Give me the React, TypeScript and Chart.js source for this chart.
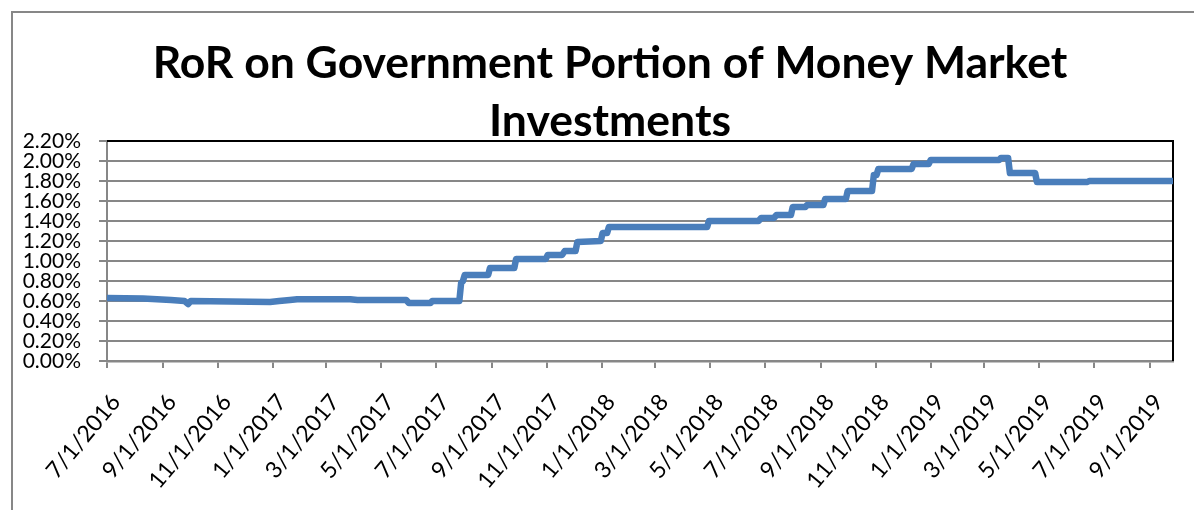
import React, { useEffect, useRef } from "react";
import { Chart, registerables } from "chart.js";

Chart.register(...registerables);

const titleLines = ["RoR on Government Portion of Money Market", "Investments"];

const tickLabels = [
  "7/1/2016", "9/1/2016", "11/1/2016", "1/1/2017", "3/1/2017", "5/1/2017",
  "7/1/2017", "9/1/2017", "11/1/2017", "1/1/2018", "3/1/2018", "5/1/2018",
  "7/1/2018", "9/1/2018", "11/1/2018", "1/1/2019", "3/1/2019", "5/1/2019",
  "7/1/2019", "9/1/2019",
];

const axisStart = "7/1/2016";
const axisEnd = "9/27/2019";

const pointDates = [
  "7/1/2016", "8/10/2016", "9/10/2016", "9/25/2016", "9/29/2016", "10/2/2016",
  "11/15/2016", "12/29/2016", "1/8/2017", "1/20/2017", "1/28/2017", "3/28/2017",
  "4/5/2017", "5/29/2017", "6/1/2017", "6/25/2017", "6/27/2017", "7/27/2017",
  "7/29/2017", "7/31/2017", "8/2/2017", "8/28/2017", "8/30/2017", "9/26/2017",
  "9/28/2017", "10/31/2017", "11/2/2017", "11/18/2017", "11/21/2017", "12/3/2017",
  "12/5/2017", "12/31/2017", "1/2/2018", "1/7/2018", "1/9/2018", "4/28/2018",
  "4/30/2018", "6/24/2018", "6/27/2018", "7/11/2018", "7/14/2018", "7/30/2018",
  "8/1/2018", "8/15/2018", "8/17/2018", "9/4/2018", "9/6/2018", "9/29/2018",
  "10/1/2018", "10/28/2018", "10/30/2018", "11/2/2018", "11/4/2018", "12/11/2018",
  "12/13/2018", "12/30/2018", "1/1/2019", "3/18/2019", "3/20/2019", "3/28/2019",
  "3/30/2019", "4/27/2019", "4/29/2019", "6/24/2019", "6/26/2019", "9/27/2019",
];

const pointValues = [
  0.63, 0.625, 0.61, 0.60, 0.57, 0.60,
  0.595, 0.59, 0.60, 0.61, 0.617, 0.617,
  0.61, 0.61, 0.58, 0.58, 0.60, 0.60,
  0.78, 0.80, 0.86, 0.86, 0.93, 0.93,
  1.02, 1.02, 1.06, 1.06, 1.10, 1.10,
  1.19, 1.20, 1.28, 1.28, 1.34, 1.34,
  1.40, 1.40, 1.43, 1.43, 1.46, 1.46,
  1.54, 1.54, 1.56, 1.56, 1.62, 1.62,
  1.70, 1.70, 1.86, 1.86, 1.92, 1.92,
  1.97, 1.97, 2.01, 2.01, 2.03, 2.03,
  1.88, 1.88, 1.79, 1.79, 1.80, 1.80,
];

const yMin = 0;
const yMax = 2.2;
const yStep = 0.2;

function dayIndex(s: string): number {
  const [m, d, y] = s.split("/").map(Number);
  const [m0, d0, y0] = axisStart.split("/").map(Number);
  return Math.round((Date.UTC(y, m - 1, d) - Date.UTC(y0, m0 - 1, d0)) / 86400000);
}

const GRAY = "#878787";
const FONT = "Lato, 'Open Sans', sans-serif";

const framePlugin = {
  id: "frame",
  afterLayout(chart: any) {
    const t = chart.titleBlock;
    if (t) {
      t.left = 47;
      t.right = chart.chartArea.right;
      t.width = t.right - t.left;
    }
  },
  beforeDraw(chart: any) {
    const ctx = chart.ctx;
    ctx.save();
    ctx.fillStyle = "#ffffff";
    ctx.fillRect(0, 0, chart.width, chart.height);
    ctx.strokeStyle = GRAY;
    ctx.lineWidth = 2;
    ctx.beginPath();
    ctx.moveTo(12, chart.height);
    ctx.lineTo(12, 12);
    ctx.lineTo(chart.width, 12);
    ctx.stroke();
    ctx.restore();
  },
  beforeDatasetsDraw(chart: any) {
    const ctx = chart.ctx;
    const { left, top, right, bottom } = chart.chartArea;
    ctx.save();
    ctx.strokeStyle = "#000000";
    ctx.lineWidth = 2;
    ctx.beginPath();
    ctx.moveTo(left, top);
    ctx.lineTo(right, top);
    ctx.lineTo(right, bottom);
    ctx.stroke();
    ctx.restore();
  },
};

export default function App() {
  const canvasRef = useRef<HTMLCanvasElement | null>(null);

  useEffect(() => {
    const canvas = canvasRef.current;
    if (!canvas) return;
    const points = pointDates.map((d, i) => ({ x: dayIndex(d), y: pointValues[i] }));
    const chart = new Chart(canvas, {
      type: "line",
      data: {
        datasets: [
          {
            label: "RoR",
            data: points,
            borderColor: "#4a7ebb",
            backgroundColor: "#4a7ebb",
            borderWidth: 6.5,
            pointRadius: 0,
            tension: 0,
            fill: false,
            borderJoinStyle: "round",
            borderCapStyle: "round",
          },
        ],
      },
      options: {
        animation: false,
        responsive: false,
        devicePixelRatio: 1,
        layout: { padding: { left: 0, right: 21, top: 0, bottom: 0 } },
        plugins: {
          legend: { display: false },
          tooltip: { enabled: false },
          title: {
            display: true,
            text: titleLines,
            color: "#000000",
            font: { family: FONT, size: 44.5, weight: "bold", lineHeight: "58px" },
            padding: { top: 35, bottom: -10 },
          },
        },
        scales: {
          x: {
            type: "linear",
            min: dayIndex(axisStart),
            max: dayIndex(axisEnd),
            afterBuildTicks: (scale: any) => {
              scale.ticks = tickLabels.map((l) => ({ value: dayIndex(l) }));
            },
            afterFit: (scale: any) => {
              scale.height = 149;
            },
            grid: {
              display: true,
              drawOnChartArea: false,
              drawTicks: true,
              tickLength: 7,
              color: GRAY,
              lineWidth: 2,
            },
            border: { display: true, color: GRAY, width: 2.5 },
            ticks: {
              autoSkip: false,
              maxRotation: 50,
              minRotation: 50,
              padding: 21,
              labelOffset: 9,
              color: "#000000",
              font: { family: FONT, size: 23 },
              callback: (_v: any, i: number) => tickLabels[i],
            },
          },
          y: {
            type: "linear",
            min: yMin,
            max: yMax,
            afterFit: (scale: any) => {
              scale.width = 107;
            },
            grid: {
              display: true,
              drawOnChartArea: true,
              drawTicks: true,
              tickLength: 8,
              color: GRAY,
              lineWidth: 2,
            },
            border: { display: true, color: GRAY, width: 2 },
            ticks: {
              stepSize: yStep,
              autoSkip: false,
              padding: 18,
              color: "#000000",
              font: { family: FONT, size: 21 },
              callback: (v: any) => Number(v).toFixed(2) + "%",
            },
          },
        },
      },
      plugins: [framePlugin],
    } as any);
    return () => chart.destroy();
  }, []);

  return (
    <div style={{ position: "fixed", left: 0, top: 0, width: 1194, height: 510, background: "#fff" }}>
      <canvas ref={canvasRef} width={1194} height={510} style={{ display: "block", width: 1194, height: 510 }} />
    </div>
  );
}
